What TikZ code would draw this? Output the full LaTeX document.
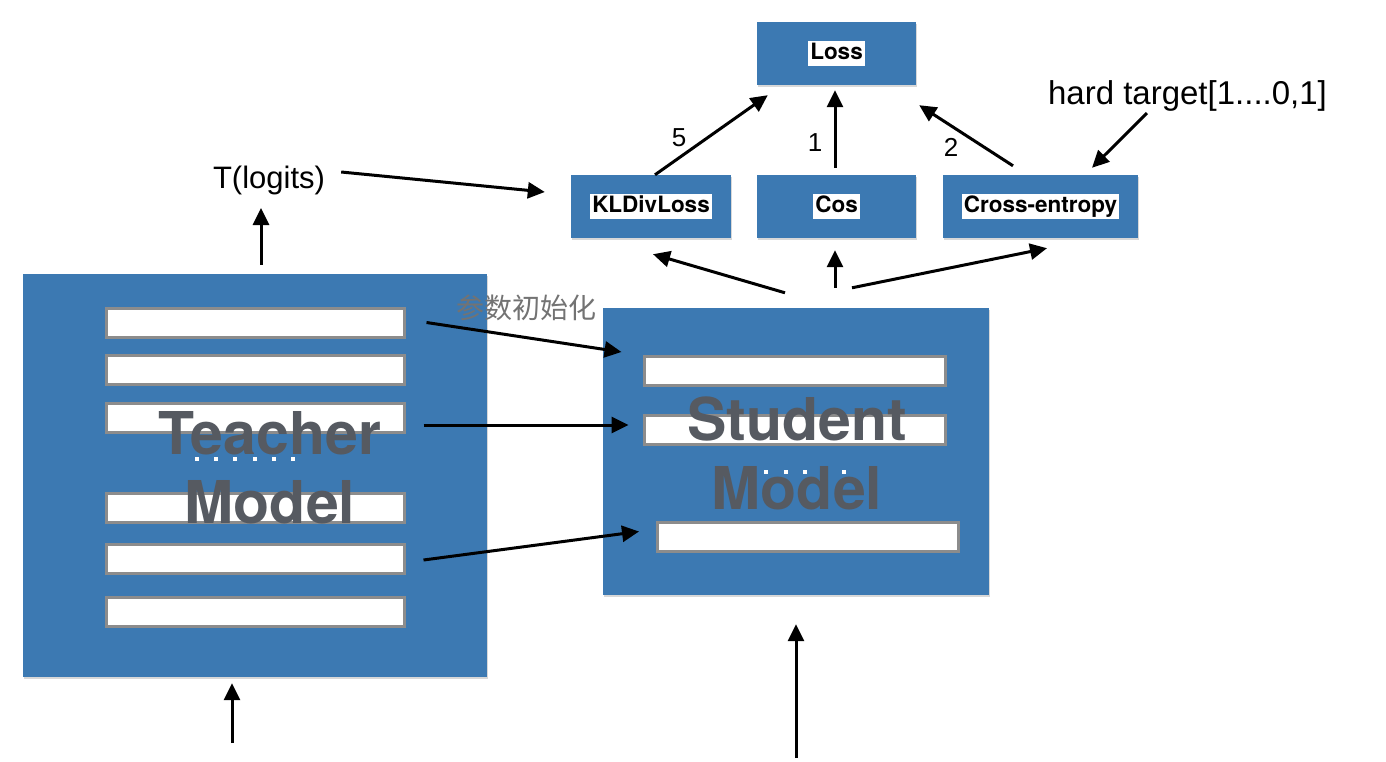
\documentclass[tikz,border=0pt]{standalone}
\usepackage{fontspec}
\usepackage{tikz}
\usetikzlibrary{%
		arrows.meta%
		,shadows%
	}
\newfontfamily\heros{TeX Gyre Heros}
\newfontfamily\thin{Liberation Sans}
\newfontfamily\cjk{Noto Sans CJK SC}
\definecolor{boxblue}{RGB}{60,121,178}
\definecolor{modelgray}{RGB}{86,90,97}
\definecolor{bargray}{RGB}{140,140,140}
\definecolor{cjkgray}{RGB}{115,115,115}
\setlength{\fboxsep}{2pt}
\newcommand{\boxlbl}[1]{\colorbox{white}{\raisebox{0pt}[16.5pt][4.5pt]{\heros\bfseries\fontsize{22.5}{22.5}\selectfont #1}}}

\tikzset{
	blk/.style={fill=boxblue, inner sep=0pt, drop shadow={shadow xshift=1pt, shadow yshift=-2pt, opacity=0.3}},
	bar/.style={draw=bargray, line width=3pt, fill=white, inner sep=0pt, minimum height=29pt},
	arr/.style={line width=3pt, -{Triangle[length=17pt,width=16pt]}},
	thintext/.style={inner sep=0pt, font=\thin\fontsize{#1}{#1}\selectfont},
	modeltext/.style={inner sep=0pt, align=center, text=modelgray, font=\heros\bfseries\fontsize{59}{69}\selectfont},
}

\begin{document}
\begin{tikzpicture}[x=1pt, y=-1pt]
			\useasboundingbox (0,0) rectangle (1386,762);
			\fill[white] (0,0) rectangle (1386,762);
			
			% Losses
			\node[blk, minimum width=159pt, minimum height=63pt] (loss) at (836.5,53.5) {\boxlbl{Loss}};
			\node[blk, minimum width=160pt, minimum height=63pt] (kl) at (651,206.5) {\boxlbl{KLDivLoss}};
			\node[blk, minimum width=159pt, minimum height=63pt] (cos) at (836.5,206.5) {\boxlbl{Cos}};
			\node[blk, minimum width=195pt, minimum height=63pt] (ce) at (1040.5,206.5) {\boxlbl{Cross-entropy}};
			
			\node[thintext=26] (w5) at (679,138) {5};
			\node[thintext=26] (w1) at (815,143) {1};
			\node[thintext=26] (w2) at (951,147) {2};
			\node[thintext=33, anchor=base] (hard) at (1187.5,105) {hard target[1....0,1]};
			\node[thintext=31, anchor=base] (logits) at (269,189) {T(logits)};
			
			% Teacher
			\node[blk, minimum width=464pt, minimum height=403pt] (teacher) at (255,475.5) {};
			\foreach \y [count=\i] in {322.5,369.5,417.5,508,559,611.5}
				\node[bar, minimum width=298pt] (t\i) at (255.5,\y) {};
			\foreach \i in {0,...,5}
				\fill[white] ({195+19.2*\i},457) rectangle ++(4,4);
			\node[modeltext] (tname) at (270,468) {Teacher\\Model};
			
			% Student
			\node[blk, minimum width=386pt, minimum height=287pt] (student) at (796,451.5) {};
			\node[bar, minimum width=301pt] (s1) at (795,370.5) {};
			\node[bar, minimum width=301pt] (s2) at (795,430) {};
			\node[bar, minimum width=301pt] (s3) at (807.5,537) {};
			\foreach \i in {0,...,4}
				\fill[white] ({764+19.5*\i},470) rectangle ++(4,4);
			\node[modeltext] (sname) at (797,453) {Student\\Model};
			
			\node[inner sep=0pt, text=cjkgray, font=\cjk\fontsize{28}{28}\selectfont] (init) at (526,308) {参数初始化};
			
			% Inputs
			\coordinate (tin) at (232,743);
			\coordinate (sin) at (796,758);
			\draw[arr] (tin) -- ([xshift=-23pt,yshift=-6pt]teacher.south);
			\draw[arr] (sin) -- ([yshift=-29pt]student.south);
			
			% Teacher to student
			\draw[arr] ([xshift=6pt,yshift=9pt]teacher.north) -- ([xshift=-8pt,yshift=-19pt]logits.base);
			\draw[arr] ([xshift=16pt,yshift=17pt]logits.base east) -- ([xshift=-26pt,yshift=14.5pt]kl.west);
			\draw[arr] ([xshift=20.5pt]t1.east) -- ([xshift=-21.5pt,yshift=18.5pt]s1.west);
			\draw[arr] ([xshift=17.5pt,yshift=-7.5pt]t3.east) -- ([xshift=-14.5pt,yshift=5pt]s2.west);
			\draw[arr] ([xshift=17.5pt,yshift=-1pt]t5.east) -- ([xshift=-16.5pt,yshift=5.5pt]s3.west);
			
			% Student to losses
			\draw[arr] ([xshift=-11pt,yshift=15pt]student.north) -- ([xshift=2pt,yshift=-16pt]kl.south);
			\draw[arr] ([xshift=39pt,yshift=20pt]student.north) -- ([xshift=-1.5pt,yshift=-12pt]cos.south);
			\draw[arr] ([xshift=56pt,yshift=20pt]student.north) -- ([xshift=6.5pt,yshift=-10pt]ce.south);
			
			% Total loss
			\draw[arr] ([xshift=4pt]kl.north) -- ([xshift=11pt,yshift=-10pt]loss.south west);
			\draw[arr] ([xshift=-1.5pt,yshift=7pt]cos.north) -- ([xshift=-1.5pt,yshift=-5pt]loss.south);
			\draw[arr] ([xshift=-27.5pt,yshift=9pt]ce.north) -- ([xshift=3pt,yshift=-20pt]loss.south east);
			\draw[arr] ([xshift=-40.5pt,yshift=-1pt]hard.south) -- ([xshift=51.5pt,yshift=7pt]ce.north);
		\end{tikzpicture}
\end{document}
